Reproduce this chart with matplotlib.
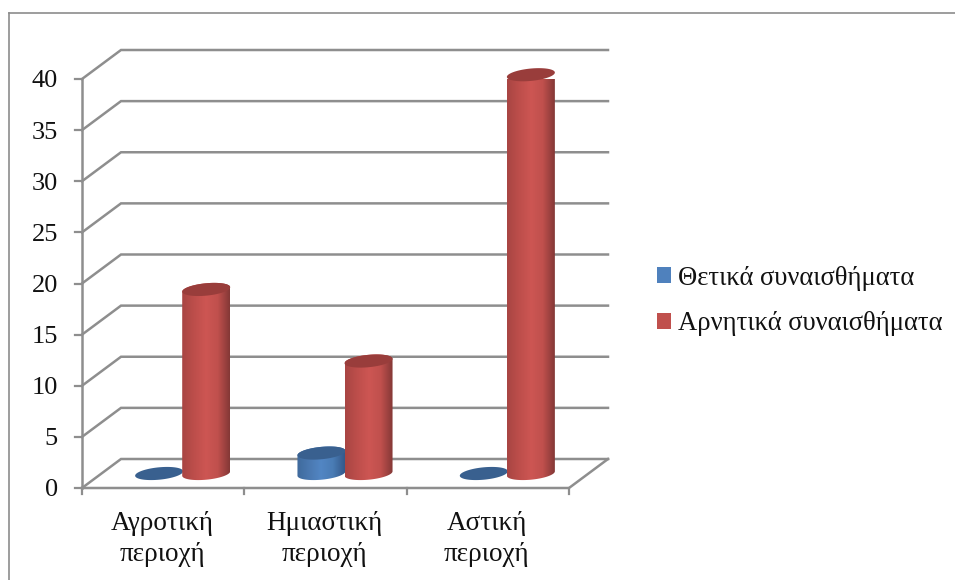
import numpy as np
import matplotlib
matplotlib.use("Agg")
import matplotlib.pyplot as plt
from matplotlib.colors import LinearSegmentedColormap
from matplotlib.patches import PathPatch, Patch
from matplotlib.path import Path
from matplotlib.lines import Line2D

categories = ["Αγροτική\nπεριοχή", "Ημιαστική\nπεριοχή", "Αστική\nπεριοχή"]
series_names = ["Θετικά συναισθήματα", "Αρνητικά συναισθήματα"]
positive = [0, 2, 0]
negative = [18, 11, 39]
y_ticks = [0, 5, 10, 15, 20, 25, 30, 35, 40]

W, H = 955, 580
L, R, T, B = 82, 569, 79, 488
plt.rcParams["font.family"] = ["Liberation Serif", "DejaVu Serif"]
fig = plt.figure(figsize=(W / 100, H / 100), dpi=100)
ax = fig.add_axes([L / W, 1 - B / H, (R - L) / W, (B - T) / H])
ax.axis("off")

ux = (R - L) / 3          # px per category
uy = (B - T) / 40         # px per value
DX, DY = 39 / ux, 29 / uy  # full depth of floor, data units
GRID = "#8e8e8e"

# outer frame
fig.add_artist(Line2D([9 / W, 9 / W], [0, 1 - 13 / H], color="#8c8c8c", lw=1.2))
fig.add_artist(Line2D([9 / W, 1], [1 - 13 / H, 1 - 13 / H], color="#8c8c8c", lw=1.2))

# walls and floor
for v in y_ticks:
    ax.plot([0, DX, 3 + DX], [v, v + DY, v + DY], color=GRID, lw=1.8, clip_on=False, zorder=1,
            solid_joinstyle="miter")
    ax.plot([-7 / ux, 0], [v, v], color=GRID, lw=1.6, clip_on=False, zorder=1)
ax.plot([0, 0], [0, 40], color=GRID, lw=1.8, clip_on=False, zorder=1)
ax.plot([0, 3, 3 + DX], [0, 0, DY], color=GRID, lw=1.8, clip_on=False, zorder=1)
for i in range(4):
    ax.plot([i, i], [0, -6 / uy], color=GRID, lw=1.6, clip_on=False, zorder=1)

A = 24 / ux
Bb = 6.2 / uy
SH = 2.2 / uy
OFF = 0.145


def cylinder(ax, cx, value, stops, top, z):
    cx0 = cx + DX / 2
    y0 = DY / 2
    t = np.linspace(np.pi, 2 * np.pi, 60)
    bx = cx0 + A * np.cos(t)
    by = y0 + Bb * np.sin(t) + SH * np.cos(t)
    t2 = np.linspace(0, np.pi, 60)
    tx = cx0 + A * np.cos(t2)
    ty = y0 + value + Bb * np.sin(t2) + SH * np.cos(t2)
    body = np.column_stack([np.r_[bx, tx], np.r_[by, ty]])
    if value > 0:
        patch = PathPatch(Path(np.vstack([body, body[0]]), closed=True), fc="none", ec="none",
                          transform=ax.transData)
        ax.add_patch(patch)
        cmap = LinearSegmentedColormap.from_list("c", stops)
        im = ax.imshow(np.linspace(0, 1, 128)[None, :], cmap=cmap, aspect="auto", zorder=z,
                       extent=[cx0 - A, cx0 + A, y0 - 2 * Bb, y0 + value + 2 * Bb])
        im.set_clip_path(patch)
    t3 = np.linspace(0, 2 * np.pi, 100)
    ex = cx0 + A * np.cos(t3)
    ey = y0 + value + Bb * np.sin(t3) + SH * np.cos(t3)
    ax.fill(ex, ey, color=top, zorder=z + 0.1, lw=0, clip_on=False)


blue_stops = ["#3f6a9c", "#4a78b0", "#5286c4", "#4a7cb5", "#33598a"]
red_stops = ["#a84543", "#bd4e4b", "#cd5653", "#c0504d", "#843836"]
for i in range(3):
    c = i + 0.5
    cylinder(ax, c - OFF, positive[i], blue_stops, "#39608f", 3 + i)
    cylinder(ax, c + OFF, negative[i], red_stops, "#993d3b", 3.5 + i)

ax.set_xlim(0, 3)
ax.set_ylim(0, 40)

for v in y_ticks:
    ax.text(-24 / ux, v, str(v), ha="right", va="center_baseline", fontsize=19, color="#111111", clip_on=False)
for i, lab in enumerate(categories):
    ax.text(i + 0.5 - 1 / ux, -51 / uy, lab, ha="center", va="center", fontsize=19.5, color="#111111",
            linespacing=1.28, clip_on=False)

handles = [Patch(fc="#4f81bd", ec="none"), Patch(fc="#c0504d", ec="none")]
fig.legend(handles, series_names, loc="center left", bbox_to_anchor=(657 / W, 1 - 301 / H),
           frameon=False, fontsize=19.2, handlelength=0.52, handleheight=0.55, handletextpad=0.25,
           labelspacing=0.78, borderpad=0, borderaxespad=0, labelcolor="#111111")

fig.savefig("out.png", dpi=100)
